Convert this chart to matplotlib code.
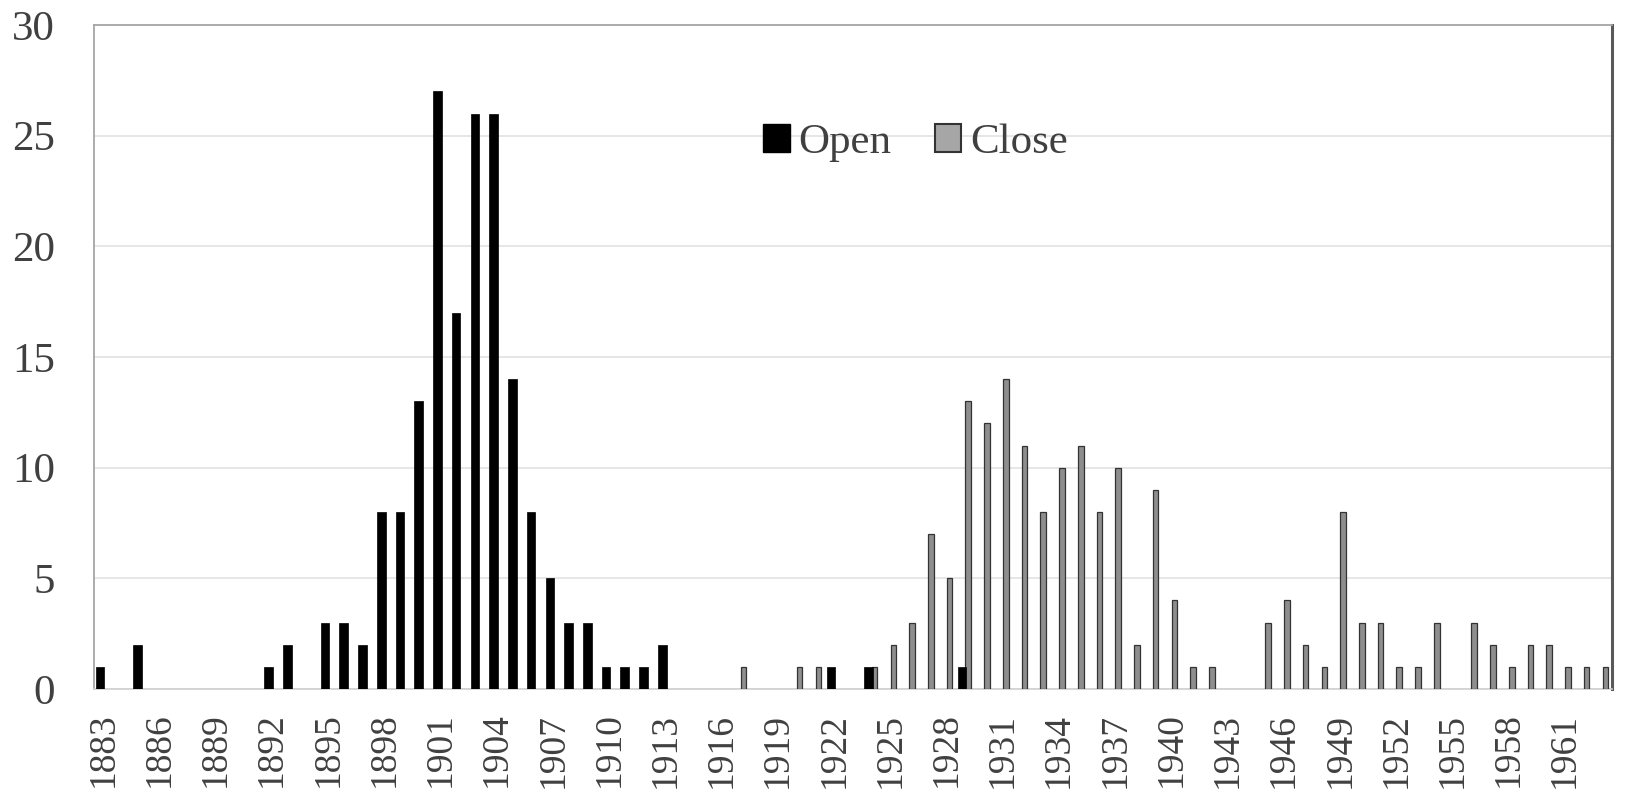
import numpy as np
import matplotlib
matplotlib.use("Agg")
import matplotlib.pyplot as plt
from matplotlib.patches import Patch

# years on the category axis
years = list(range(1883, 1964))

# counts, one row per ten years
open_counts = [
    1, 0, 2, 0, 0, 0, 0, 0, 0, 1,      # 1883-1892
    2, 0, 3, 3, 2, 8, 8, 13, 27, 17,   # 1893-1902
    26, 26, 14, 8, 5, 3, 3, 1, 1, 1,   # 1903-1912
    2, 0, 0, 0, 0, 0, 0, 0, 0, 1,      # 1913-1922
    0, 1, 0, 0, 0, 0, 1, 0, 0, 0,      # 1923-1932
    0, 0, 0, 0, 0, 0, 0, 0, 0, 0,      # 1933-1942
    0, 0, 0, 0, 0, 0, 0, 0, 0, 0,      # 1943-1952
    0, 0, 0, 0, 0, 0, 0, 0, 0, 0,      # 1953-1962
    0,                                 # 1963
]
close_counts = [
    0, 0, 0, 0, 0, 0, 0, 0, 0, 0,      # 1883-1892
    0, 0, 0, 0, 0, 0, 0, 0, 0, 0,      # 1893-1902
    0, 0, 0, 0, 0, 0, 0, 0, 0, 0,      # 1903-1912
    0, 0, 0, 0, 1, 0, 0, 1, 1, 0,      # 1913-1922
    0, 1, 2, 3, 7, 5, 13, 12, 14, 11,  # 1923-1932
    8, 10, 11, 8, 10, 2, 9, 4, 1, 1,   # 1933-1942
    0, 0, 3, 4, 2, 1, 8, 3, 3, 1,      # 1943-1952
    1, 3, 0, 3, 2, 1, 2, 2, 1, 1,      # 1953-1962
    1,                                 # 1963
]
tick_years = years[::3]

serif = "Liberation Serif"
text_col = "#404040"
close_fill, close_edge = "#8e8e8e", "#333333"

fig = plt.figure(figsize=(16.42, 8.0), dpi=100)
ax = fig.add_axes([0.0572, 0.13875, 0.9244, 0.83])

x = np.arange(len(years))
close_bars = ax.bar(x + 0.16, close_counts, width=0.3, color=close_fill,
                    edgecolor=close_edge, linewidth=0.9, zorder=3)
open_bars = ax.bar(x - 0.17, open_counts, width=0.46, color="black",
                   edgecolor="black", linewidth=0.5, zorder=4)
# empty years: no outline stub on the baseline
for bars, vals in ((close_bars, close_counts), (open_bars, open_counts)):
    for b, v in zip(bars, vals):
        if v == 0:
            b.set_visible(False)

ax.set_xlim(-0.5, len(years) - 0.5)
ax.set_ylim(0, 30)
ax.set_yticks(range(0, 31, 5))
ax.set_xticks([years.index(y) for y in tick_years])
ax.set_xticklabels([str(y) for y in tick_years], rotation=90)

ax.yaxis.grid(True, color="#e2e2e2", linewidth=1.2, zorder=0)
ax.set_axisbelow(True)

for lab in ax.get_yticklabels():
    lab.set_fontfamily(serif)
    lab.set_fontsize(31)
    lab.set_color(text_col)
for lab in ax.get_xticklabels():
    lab.set_fontfamily(serif)
    lab.set_fontsize(27)
    lab.set_color(text_col)
ax.tick_params(axis="y", length=0, pad=28)
ax.tick_params(axis="x", length=0, pad=17)

ax.spines["top"].set_color("#a6a6a6")
ax.spines["top"].set_linewidth(1.3)
ax.spines["left"].set_color("#a6a6a6")
ax.spines["left"].set_linewidth(1.3)
ax.spines["bottom"].set_color("#d0d0d0")
ax.spines["bottom"].set_linewidth(1.2)
ax.spines["right"].set_color("#595959")
ax.spines["right"].set_linewidth(2.2)

handles = [Patch(facecolor="black", edgecolor="black", label="Open"),
           Patch(facecolor="#a6a6a6", edgecolor=close_edge, linewidth=1.5,
                 label="Close")]
leg = ax.legend(handles=handles, loc="center left",
                bbox_to_anchor=(0.441, 0.822), ncol=2, frameon=False,
                prop={"family": serif, "size": 31},
                handlelength=0.62, handleheight=0.62, handletextpad=0.2,
                columnspacing=1.0, borderpad=0, borderaxespad=0)
for t in leg.get_texts():
    t.set_color(text_col)

fig.savefig("out.png", dpi=100, facecolor="white")
